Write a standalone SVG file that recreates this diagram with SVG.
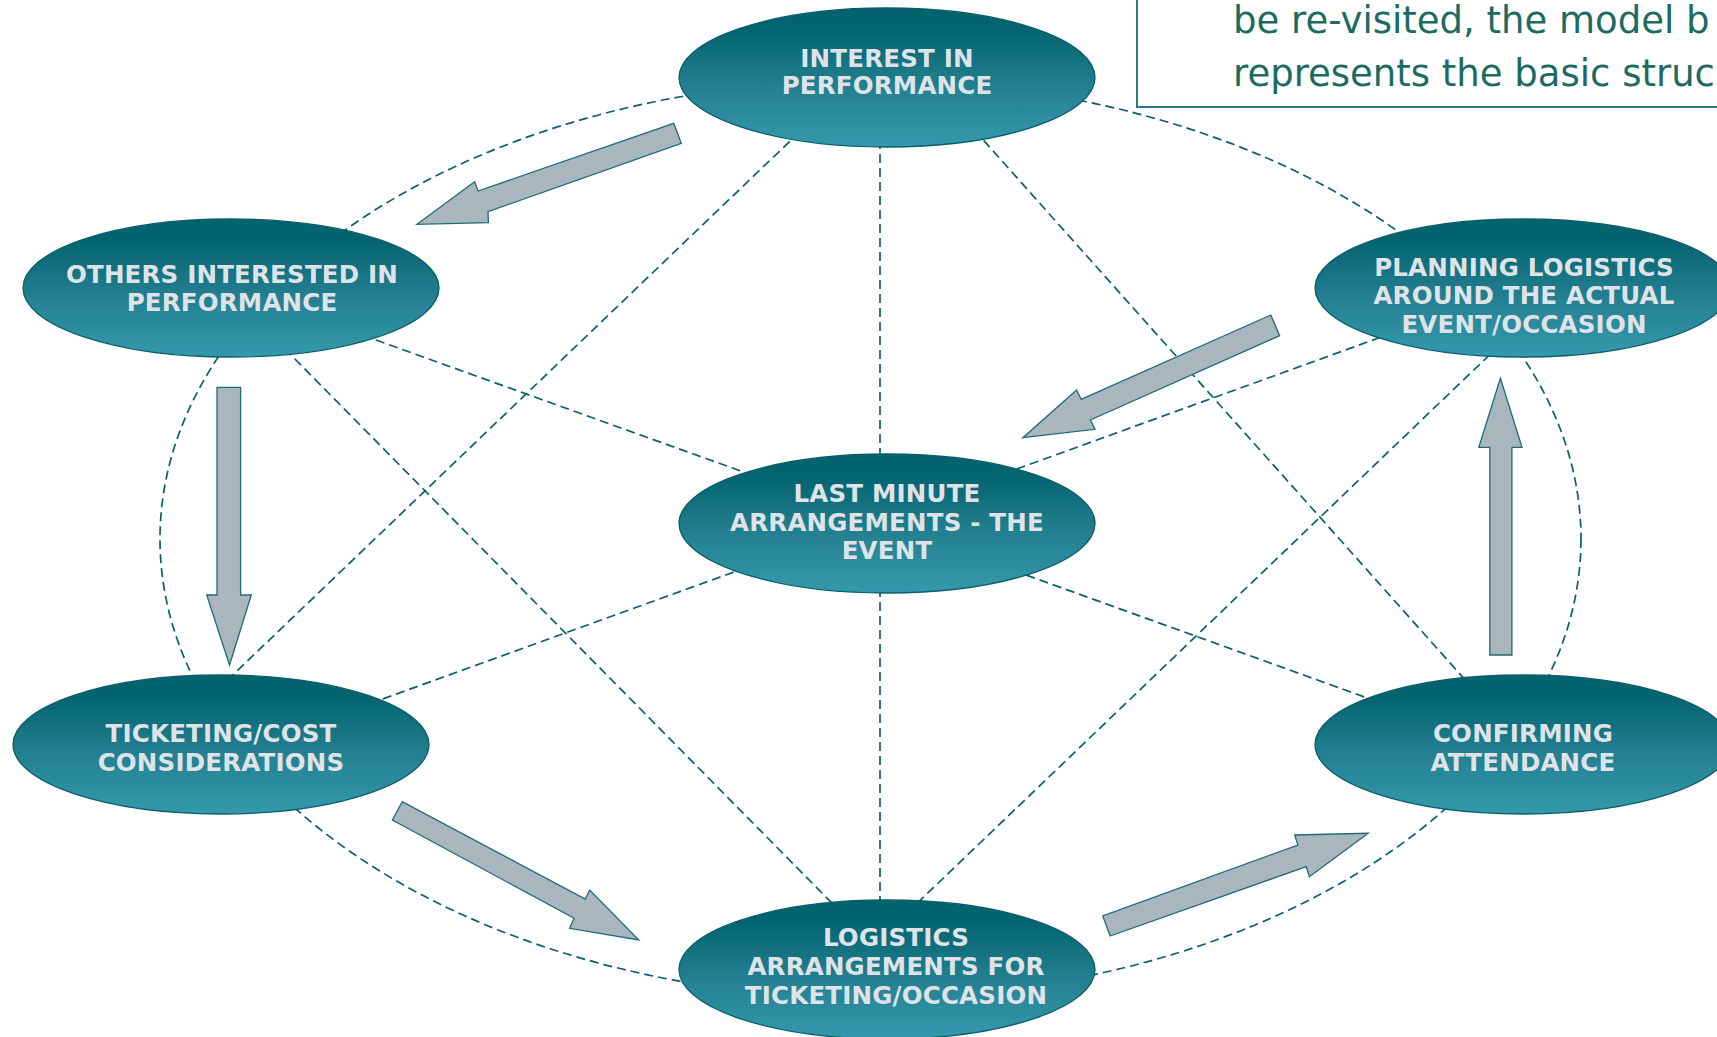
<svg xmlns="http://www.w3.org/2000/svg" width="1717" height="1037" viewBox="0 0 1717 1037">
<style>
.node{fill:url(#g);stroke:#0a5d69;stroke-width:1.3}
.lbl{font-family:"DejaVu Sans","Liberation Sans",sans-serif;font-weight:bold;font-size:24.5px;letter-spacing:0.2px;fill:#dfe3e8;text-anchor:middle}
.dash{fill:none;stroke:#0e5f6e;stroke-width:1.7;stroke-dasharray:9 5}
.arr{fill:#aab6bd;stroke:#1f6a78;stroke-width:1.3;stroke-linejoin:miter}
.note{font-family:"DejaVu Sans","Liberation Sans",sans-serif;font-size:37px;fill:#1c6a62}
</style>
<defs>
<linearGradient id="g" x1="0" y1="0" x2="0" y2="1">
<stop offset="0.15" stop-color="#03636f"/>
<stop offset="0.55" stop-color="#237f8f"/>
<stop offset="1" stop-color="#3499ad"/>
</linearGradient>
</defs>
<rect width="1717" height="1037" fill="#ffffff"/>
<g id="note">
<rect x="1137" y="-10" width="600" height="117" fill="#ffffff" stroke="#2b7a7f" stroke-width="2"/>
<text class="note" x="1233" y="33">be re-visited, the model b</text>
<text class="note" x="1233" y="86">represents the basic struc</text>
</g>
<g id="connectors">
<ellipse class="dash" cx="870.5" cy="539" rx="710.5" ry="459"/>
<line class="dash" x1="880" y1="140" x2="880" y2="910"/>
<line class="dash" x1="810" y1="122" x2="215" y2="692"/>
<line class="dash" x1="965" y1="119.5" x2="1480" y2="696.5"/>
<line class="dash" x1="231" y1="288" x2="887" y2="523.5"/>
<line class="dash" x1="275" y1="338.8" x2="850" y2="921.4"/>
<line class="dash" x1="1420" y1="323" x2="990" y2="478.7"/>
<line class="dash" x1="1500" y1="344.9" x2="905" y2="914.8"/>
<line class="dash" x1="1000" y1="565.6" x2="1390" y2="706.2"/>
<line class="dash" x1="760" y1="562.6" x2="355" y2="709"/>
</g>
<g id="arrows">
<polygon class="arr" points="673.7,123.3 681.3,143.3 488,211.7 488.4,222.7 417,224.3 474.6,181.7 478.1,191"/>
<polygon class="arr" points="217,387.3 240.6,387.3 240.6,595 251.3,595 229.5,665 206.7,595 217,595"/>
<polygon class="arr" points="402.2,801.7 392.4,820 574.1,918.3 569.6,928.3 638.8,940 589.7,890 585.3,899"/>
<polygon class="arr" points="1102.8,916 1110.1,936 1306.2,866.7 1309.4,876.7 1368.2,833.3 1294.7,835 1297.9,845"/>
<polygon class="arr" points="1489.8,655 1511.9,655 1511.9,447.3 1522,447.3 1500.4,378.3 1478.8,447.3 1489.8,447.3"/>
<polygon class="arr" points="1270.8,315 1279.6,335.7 1090.4,420 1095,429.3 1022.9,437.7 1076.6,390 1081.2,399.3"/>
</g>
<g id="n-interest">
<ellipse class="node" cx="887" cy="77.5" rx="208" ry="69.5"/>
<text class="lbl" x="887" y="67">INTEREST IN</text>
<text class="lbl" x="887" y="94">PERFORMANCE</text>
</g>
<g id="n-others">
<ellipse class="node" cx="231" cy="288" rx="208" ry="69"/>
<text class="lbl" x="232" y="283">OTHERS INTERESTED IN</text>
<text class="lbl" x="232" y="311">PERFORMANCE</text>
</g>
<g id="n-planning">
<ellipse class="node" cx="1523" cy="288" rx="208" ry="69"/>
<text class="lbl" x="1524" y="276">PLANNING LOGISTICS</text>
<text class="lbl" x="1524" y="304">AROUND THE ACTUAL</text>
<text class="lbl" x="1524" y="333">EVENT/OCCASION</text>
</g>
<g id="n-lastminute">
<ellipse class="node" cx="887" cy="523.5" rx="208" ry="69.5"/>
<text class="lbl" x="887" y="502">LAST MINUTE</text>
<text class="lbl" x="887" y="531">ARRANGEMENTS - THE</text>
<text class="lbl" x="887" y="559">EVENT</text>
</g>
<g id="n-ticketing">
<ellipse class="node" cx="221" cy="744.5" rx="208" ry="69.5"/>
<text class="lbl" x="221" y="742">TICKETING/COST</text>
<text class="lbl" x="221" y="771">CONSIDERATIONS</text>
</g>
<g id="n-confirming">
<ellipse class="node" cx="1523" cy="744.5" rx="208" ry="69.5"/>
<text class="lbl" x="1523" y="742">CONFIRMING</text>
<text class="lbl" x="1523" y="771">ATTENDANCE</text>
</g>
<g id="n-logistics">
<ellipse class="node" cx="887" cy="969.5" rx="208" ry="69.5"/>
<text class="lbl" x="896" y="946">LOGISTICS</text>
<text class="lbl" x="896" y="975">ARRANGEMENTS FOR</text>
<text class="lbl" x="896" y="1004">TICKETING/OCCASION</text>
</g>
</svg>
